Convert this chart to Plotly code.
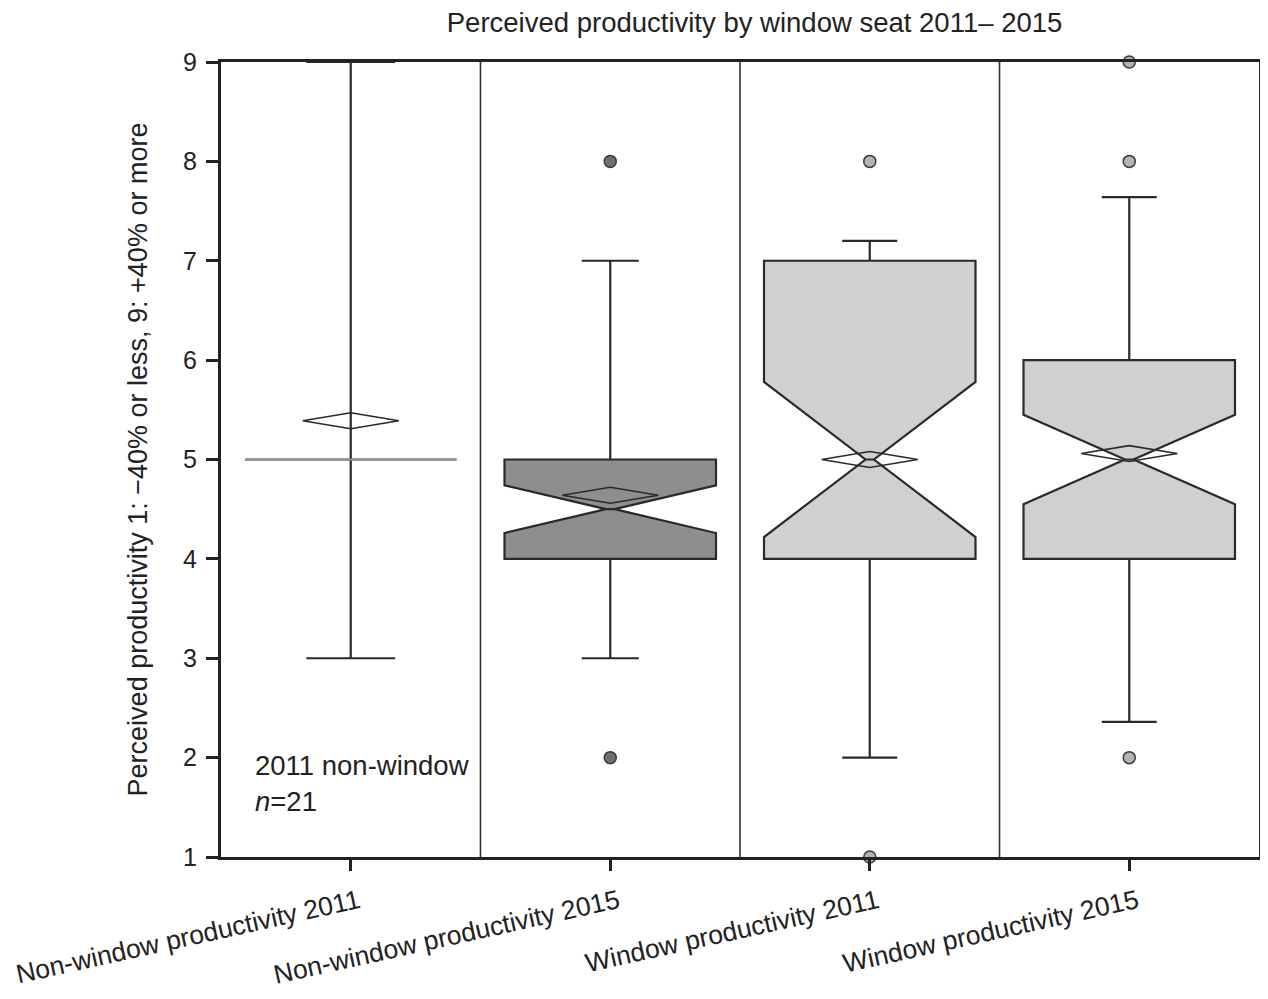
import plotly.graph_objects as go

categories = ["Non-window productivity 2011", "Non-window productivity 2015",
              "Window productivity 2011", "Window productivity 2015"]
q1 = [5.0, 4.0, 4.0, 4.0]
median = [5.0, 4.5, 5.0, 5.0]
q3 = [5.0, 5.0, 7.0, 6.0]
lowerfence = [3.0, 3.0, 2.0, 2.36]
upperfence = [9.0, 7.0, 7.2, 7.64]
notchspan = [0.0, 0.24, 0.78, 0.45]
means = [5.39, 4.64, 5.0, 5.06]
outliers = [[], [2, 8], [1, 8], [2, 8, 9]]
y_ticks = [1, 2, 3, 4, 5, 6, 7, 8, 9]

fills = ["rgba(0,0,0,0)", "#8e8e90", "#d0d0d2", "#d0d0d2"]
out_fills = ["#888888", "#707070", "#b4b4b4", "#b4b4b4"]
whisker_w = [0.42, 0.27, 0.26, 0.26]
LINE = "#2a2a2a"
FONT = "Liberation Sans, Arial, Helvetica, sans-serif"
BOXW = 0.815
DIA_HW = 0.185
DIA_HH = 0.08

fig = go.Figure()
for i, cat in enumerate(categories):
    fig.add_trace(go.Box(
        x=[i], q1=[q1[i]], median=[median[i]], q3=[q3[i]],
        lowerfence=[lowerfence[i]], upperfence=[upperfence[i]],
        notchspan=[notchspan[i]], notched=notchspan[i] > 0, notchwidth=0.48,
        width=BOXW, whiskerwidth=whisker_w[i], boxpoints=False,
        fillcolor=fills[i], line=dict(color=LINE, width=2.2),
        name=cat, showlegend=False, hoverinfo="skip"))
    if q1[i] == q3[i]:
        fig.add_trace(go.Scatter(
            x=[i - BOXW / 2, i + BOXW / 2], y=[median[i], median[i]],
            mode="lines", line=dict(color="#9a9a9a", width=1.8),
            showlegend=False, hoverinfo="skip"))
    m = means[i]
    fig.add_trace(go.Scatter(
        x=[i - DIA_HW, i, i + DIA_HW, i, i - DIA_HW],
        y=[m, m + DIA_HH, m, m - DIA_HH, m],
        mode="lines", line=dict(color=LINE, width=1.6),
        showlegend=False, hoverinfo="skip"))
    if outliers[i]:
        fig.add_trace(go.Scatter(
            x=[i] * len(outliers[i]), y=outliers[i], mode="markers",
            marker=dict(size=12, color=out_fills[i], line=dict(color="#3a3a3a", width=1.5)),
            cliponaxis=False, showlegend=False, hoverinfo="skip"))

for k in range(len(categories) - 1):
    fig.add_shape(type="line", xref="x", yref="paper", x0=k + 0.5, x1=k + 0.5,
                  y0=0, y1=1, line=dict(color="#333333", width=1.6), layer="below")

fig.add_annotation(text="2011 non-window<br><i>n</i>=21", xref="x", yref="y",
                   x=-0.375, y=1.74, xanchor="left", yanchor="middle", align="left",
                   showarrow=False, font=dict(family=FONT, size=27.5, color="#222222"))

# page body has an 8px margin, so offsets are compensated
fig.update_layout(
    width=1258, height=991,
    margin=dict(l=213, r=4, t=54, b=142),
    paper_bgcolor="white", plot_bgcolor="white",
    font=dict(family=FONT, color="#222222"),
    title=dict(text="Perceived productivity by window seat 2011\u2013 2015",
               x=0.514, xref="paper", xanchor="center",
               y=1 - 14 / 991, yref="container", yanchor="middle",
               font=dict(family=FONT, size=27.5, color="#222222")),
    xaxis=dict(range=[-0.5, 3.5], tickvals=list(range(len(categories))),
               ticktext=categories, tickangle=-12.5,
               tickfont=dict(family=FONT, size=26.5, color="#222222"),
               ticklabeloverflow="allow", ticklabelshift=8, ticklabelstandoff=5,
               showline=True, mirror=True, linecolor="#222222", linewidth=3,
               ticks="outside", ticklen=11, tickwidth=2.5, tickcolor="#222222",
               showgrid=False, zeroline=False),
    yaxis=dict(range=[1, 9], tickvals=y_ticks,
               tickfont=dict(family=FONT, size=25, color="#222222"),
               title=dict(text="Perceived productivity 1: \u221240% or less, 9: +40% or more",
                          font=dict(family=FONT, size=27, color="#222222"),
                          standoff=28),
               showline=True, mirror=True, linecolor="#222222", linewidth=3,
               ticks="outside", ticklen=12, tickwidth=2.5, tickcolor="#222222",
               ticklabelstandoff=4,
               showgrid=False, zeroline=False),
)

fig.write_html("out.html")
